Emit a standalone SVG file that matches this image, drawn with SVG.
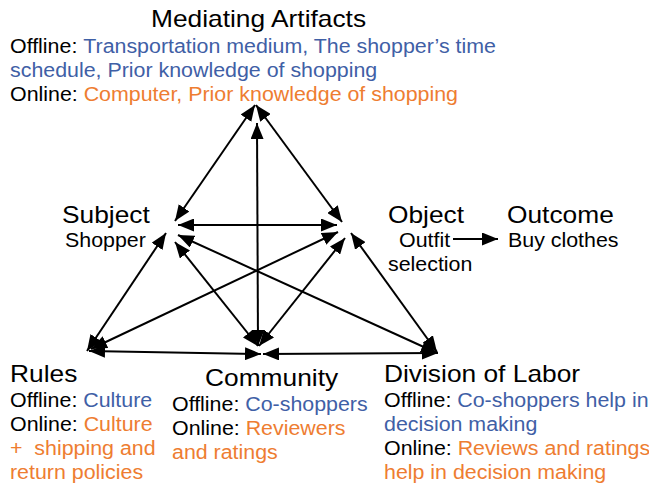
<svg xmlns="http://www.w3.org/2000/svg" width="649" height="490" viewBox="0 0 649 490">
  <defs>
    <marker id="ah" viewBox="0 0 16 13" refX="16" refY="6.5" markerWidth="16" markerHeight="13" markerUnits="userSpaceOnUse" orient="auto-start-reverse">
      <path d="M0,0 L16,6.5 L0,13 z" fill="#000"/>
    </marker>
    <style>
      text { font-family: "Liberation Sans", Arial, sans-serif; fill: #000; }
      .h { font-size: 24px; }
      .b { font-size: 19.5px; }
      .blue { fill: #3F60A6; }
      .orange { fill: #EE7D31; }
      .edge { stroke: #000; stroke-width: 2; fill: none; }
      .bi { marker-start: url(#ah); marker-end: url(#ah); }
      .uni { marker-end: url(#ah); }
    </style>
  </defs>
  <rect width="649" height="490" fill="#fff"/>

  <g id="connectors">
    <line class="edge bi" x1="255" y1="105" x2="175" y2="221"/>
    <line class="edge bi" x1="256" y1="105" x2="342" y2="222"/>
    <line class="edge bi" x1="257" y1="123" x2="258" y2="346"/>
    <line class="edge bi" x1="178" y1="225" x2="337" y2="225"/>
    <line class="edge bi" x1="166" y1="233" x2="87" y2="351"/>
    <line class="edge bi" x1="175" y1="242" x2="258" y2="346"/>
    <line class="edge bi" x1="178" y1="235" x2="437" y2="353"/>
    <line class="edge bi" x1="338" y1="232" x2="91" y2="349"/>
    <line class="edge bi" x1="345" y1="238" x2="259" y2="346"/>
    <line class="edge bi" x1="351" y1="233" x2="437" y2="352"/>
    <line class="edge bi" x1="89" y1="351" x2="261" y2="354"/>
    <line class="edge bi" x1="263" y1="354" x2="438" y2="353"/>
    <line class="edge uni" x1="453" y1="239" x2="498" y2="239"/>
  </g>

  <g id="mediating-artifacts">
    <text class="h" transform="translate(151,27) scale(1.097,1)">Mediating Artifacts</text>
    <text class="b" transform="translate(10,53) scale(1.097,1)">Offline: <tspan class="blue">Transportation medium, The shopper’s time</tspan></text>
    <text class="b blue" transform="translate(10,77) scale(1.097,1)">schedule, Prior knowledge of shopping</text>
    <text class="b" transform="translate(10,101) scale(1.097,1)">Online: <tspan class="orange">Computer, Prior knowledge of shopping</tspan></text>
  </g>

  <g id="subject">
    <text class="h" transform="translate(62,223) scale(1.097,1)">Subject</text>
    <text class="b" transform="translate(65,247) scale(1.097,1)">Shopper</text>
  </g>

  <g id="object">
    <text class="h" transform="translate(388,223) scale(1.097,1)">Object</text>
    <text class="b" transform="translate(399,247) scale(1.097,1)">Outfit</text>
    <text class="b" transform="translate(388,271) scale(1.097,1)">selection</text>
  </g>

  <g id="outcome">
    <text class="h" transform="translate(507,223) scale(1.097,1)">Outcome</text>
    <text class="b" transform="translate(508,247) scale(1.097,1)">Buy clothes</text>
  </g>

  <g id="rules">
    <text class="h" transform="translate(10,382) scale(1.097,1)">Rules</text>
    <text class="b" transform="translate(10,407) scale(1.097,1)">Offline: <tspan class="blue">Culture</tspan></text>
    <text class="b" transform="translate(10,431) scale(1.097,1)">Online: <tspan class="orange">Culture</tspan></text>
    <text class="b orange" transform="translate(10,455) scale(1.097,1)">+&#160; shipping and</text>
    <text class="b orange" transform="translate(10,479) scale(1.097,1)">return policies</text>
  </g>

  <g id="community">
    <text class="h" transform="translate(205,386) scale(1.097,1)">Community</text>
    <text class="b" transform="translate(172,411) scale(1.097,1)">Offline: <tspan class="blue">Co-shoppers</tspan></text>
    <text class="b" transform="translate(172,435) scale(1.097,1)">Online: <tspan class="orange">Reviewers</tspan></text>
    <text class="b orange" transform="translate(172,459) scale(1.097,1)">and ratings</text>
  </g>

  <g id="division-of-labor">
    <text class="h" transform="translate(384,382) scale(1.097,1)">Division of Labor</text>
    <text class="b" transform="translate(384,407) scale(1.097,1)">Offline: <tspan class="blue">Co-shoppers help in</tspan></text>
    <text class="b blue" transform="translate(384,431) scale(1.097,1)">decision making</text>
    <text class="b" transform="translate(384,455) scale(1.097,1)">Online: <tspan class="orange">Reviews and ratings</tspan></text>
    <text class="b orange" transform="translate(384,479) scale(1.097,1)">help in decision making</text>
  </g>
</svg>
